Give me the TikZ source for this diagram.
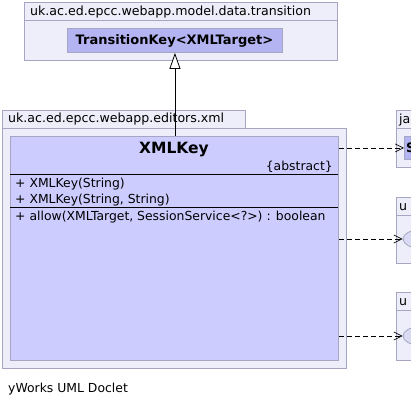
\documentclass[tikz,border=0pt]{standalone}
\usepackage{fontspec}
\setmainfont{DejaVu Sans}
\usetikzlibrary{arrows.meta,positioning,shapes.geometric}
\definecolor{PkgFill}{HTML}{EEEEFA}
\definecolor{PkgLine}{HTML}{A6A6C2}
\definecolor{ClassFill}{HTML}{CCCCFF}
\definecolor{RefFill}{HTML}{B4B4F2}
\definecolor{IfaceFill}{HTML}{DADAF4}
\newcommand{\umlpackage}[6]{%
  \node[pkgtab,minimum width=#5] (#1tab) at (#3,#4) {};
  \node[pkgbody,minimum width=#5,minimum height=#6] (#1) at (#3,#4+18) {};
  \node[pkglabel] (#1label) at ([xshift=3pt,yshift=-4.5pt]#1tab.west) {#2};
}

\begin{document}
\begin{tikzpicture}[x=1pt,y=-1pt,
    pkgtab/.style={draw=PkgLine,fill=PkgFill,line width=0.9pt,anchor=north west,
                   inner sep=0pt,minimum height=18pt},
    pkgbody/.style={draw=PkgLine,fill=PkgFill,line width=0.9pt,anchor=north west,inner sep=0pt},
    pkglabel/.style={anchor=base west,inner sep=0pt,font=\fontsize{12.6}{14}\selectfont},
    umlclass/.style={draw=PkgLine,fill=ClassFill,line width=0.9pt,anchor=north west,inner sep=0pt},
    member/.style={anchor=base west,inner sep=0pt,font=\fontsize{12.4}{14}\selectfont},
    dep/.style={draw=black,line width=0.7pt,dash pattern=on 5pt off 3pt,
                -{Straight Barb[length=8pt,width=8pt,line width=0.7pt]}},
    inherit/.style={draw=black,line width=0.8pt,
                -{Triangle[open,length=16pt,width=11pt,fill=white,line width=0.8pt]}}]
      \clip (0,0) rectangle (411,406);
      \fill[white] (0,0) rectangle (411,406);

      % package of the super type
      \node[pkgtab,minimum width=313pt] (toppkgtab) at (24,2) {};
      \node[pkgbody,minimum width=313pt,minimum height=40pt] (toppkg) at (24,20) {};
      \node[pkglabel] (toppkglabel) at (30,16) {uk.ac.ed.epcc.webapp.model.data.transition};
      \node[umlclass,fill=RefFill,minimum width=215pt,minimum height=24pt] (tkey) at (67,28) {};
      \node[anchor=base,inner sep=0pt,font=\fontsize{13}{15}\selectfont\bfseries]
        (tkeyname) at (174.5,45) {TransitionKey<XMLTarget>};

      % package of XMLKey
      \node[pkgtab,minimum width=243pt] (xmlpkgtab) at (2,110) {};
      \node[pkgbody,minimum width=344pt,minimum height=240pt] (xmlpkg) at (2,128) {};
      \node[pkglabel] (xmlpkglabel) at (8,122.7) {uk.ac.ed.epcc.webapp.editors.xml};
      \node[umlclass,minimum width=328pt,minimum height=224pt] (xmlkey) at (10,136) {};
      \node[anchor=base,inner sep=0pt,font=\fontsize{15.5}{18}\selectfont\bfseries]
        (xmlkeyname) at (174,153.3) {XMLKey};
      \node[member,anchor=base east] (xmlkeyabs) at (333,170) {\{abstract\}};
      \draw[black,line width=0.8pt] (10,174) -- (338,174);
      \node[member] (ctor1) at (15,187.3) {+ XMLKey(String)};
      \node[member] (ctor2) at (15,203.3) {+ XMLKey(String, String)};
      \draw[black,line width=0.8pt] (10,207) -- (338,207);
      \node[member] (allow) at (15,220) {+ allow(XMLTarget, SessionService<?>) : boolean};

      % packages cut at the right border
      \umlpackage{rpkga}{ja}{396}{110}{60pt}{39pt}
      \node[umlclass,fill=RefFill,minimum width=40pt,minimum height=23pt] (sref) at (404,136) {};
      \node[anchor=base west,inner sep=0pt,font=\fontsize{13}{15}\selectfont\bfseries]
        (srefname) at (406,152) {S};
      \umlpackage{rpkgb}{u}{396}{197}{60pt}{48pt}
      \node[ellipse,draw=PkgLine,fill=IfaceFill,line width=0.8pt,inner sep=0pt,
            minimum width=32pt,minimum height=18pt] (ifacea) at (419,239) {};
      \umlpackage{rpkgc}{u}{396}{292}{60pt}{50pt}
      \node[ellipse,draw=PkgLine,fill=IfaceFill,line width=0.8pt,inner sep=0pt,
            minimum width=32pt,minimum height=18pt] (ifaceb) at (419,336) {};

      % relations
      \draw[inherit] (xmlkey.north -| tkey.south) -- (tkey.south);
      \draw[dep] (sref.west -| xmlkey.east) -- (sref.west);
      \draw[dep] (ifacea.west -| xmlkey.east) -- (ifacea.west);
      \draw[dep] (ifaceb.west -| xmlkey.east) -- (ifaceb.west);

      \node[anchor=base west,inner sep=0pt,font=\fontsize{12.4}{14}\selectfont]
        (doclet) at (8,392.7) {yWorks UML Doclet};
    \end{tikzpicture}
\end{document}
